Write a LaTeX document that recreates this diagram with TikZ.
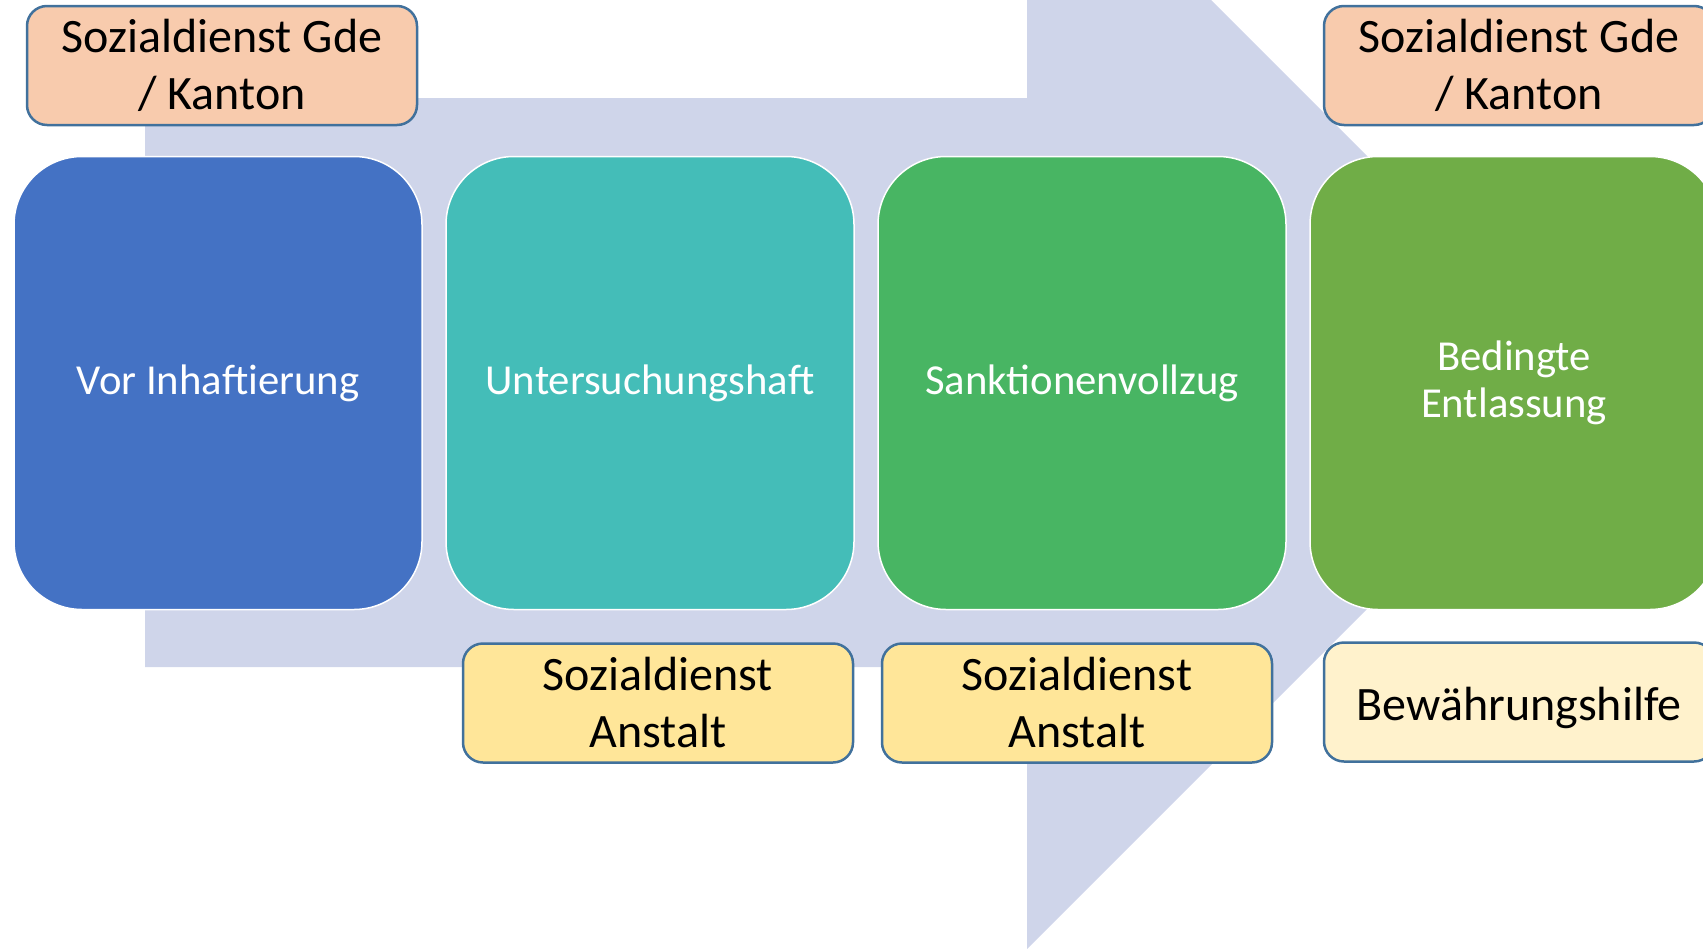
\documentclass[tikz,border=0pt]{standalone}
\usepackage{fontspec}
\setmainfont{Carlito}
\usepackage{tikz}
\usetikzlibrary{positioning}

\definecolor{pfeil}{HTML}{CFD5EA}
\definecolor{blau}{HTML}{4472C4}
\definecolor{tuerkis}{HTML}{44BDB8}
\definecolor{gruen}{HTML}{48B563}
\definecolor{olive}{HTML}{70AD47}
\definecolor{pfirsich}{HTML}{F8CBAD}
\definecolor{gelb}{HTML}{FFE699}
\definecolor{hellgelb}{HTML}{FFF2CC}
\definecolor{rand}{HTML}{41719C}

\begin{document}
\begin{tikzpicture}[x=1pt, y=-1pt, node distance=22.5pt,
    phase/.style={draw=white, line width=1.5pt, rounded corners=68pt, minimum width=408pt, minimum height=453pt, text=white, align=center, font=\fontsize{42.7}{47}\selectfont},
    dienst/.style={draw=rand, line width=2.5pt, rounded corners=20pt, minimum width=390pt, minimum height=119pt, text=black, align=center, font=\fontsize{48}{57}\selectfont}]

    \useasboundingbox (0,0) rectangle (1703,948);
    \clip (0,0) rectangle (1703,948);

    % Draw arrow
    \fill[pfeil] (145,98) -- (1027,98) -- (1027,-184) -- (1593.5,382.5) -- (1027,949) -- (1027,667) -- (145,667) -- cycle;

    % Draw phases
    \node (vor) [phase, fill=blau] at (218,383) {Vor Inhaftierung};
    \node (uhaft) [phase, fill=tuerkis, right=of vor] {Untersuchungshaft};
    \node (vollzug) [phase, fill=gruen, right=of uhaft] {Sanktionenvollzug};
    \node (entl) [phase, fill=olive, right=of vollzug] {Bedingte\\Entlassung};

    % Draw services
    \node (gde1) [dienst, fill=pfirsich] at (222,65.5) {Sozialdienst Gde\\/ Kanton};
    \node (gde2) [dienst, fill=pfirsich] at (1519,65.5) {Sozialdienst Gde\\/ Kanton};
    \node (anst1) [dienst, fill=gelb] at (658,703) {Sozialdienst\\Anstalt};
    \node (anst2) [dienst, fill=gelb] at (1077,703) {Sozialdienst\\Anstalt};
    \node (bwh) [dienst, fill=hellgelb] at (1519,702) {\raisebox{-5.5pt}[\height][\depth]{Bewährungshilfe}};

\end{tikzpicture}
\end{document}
